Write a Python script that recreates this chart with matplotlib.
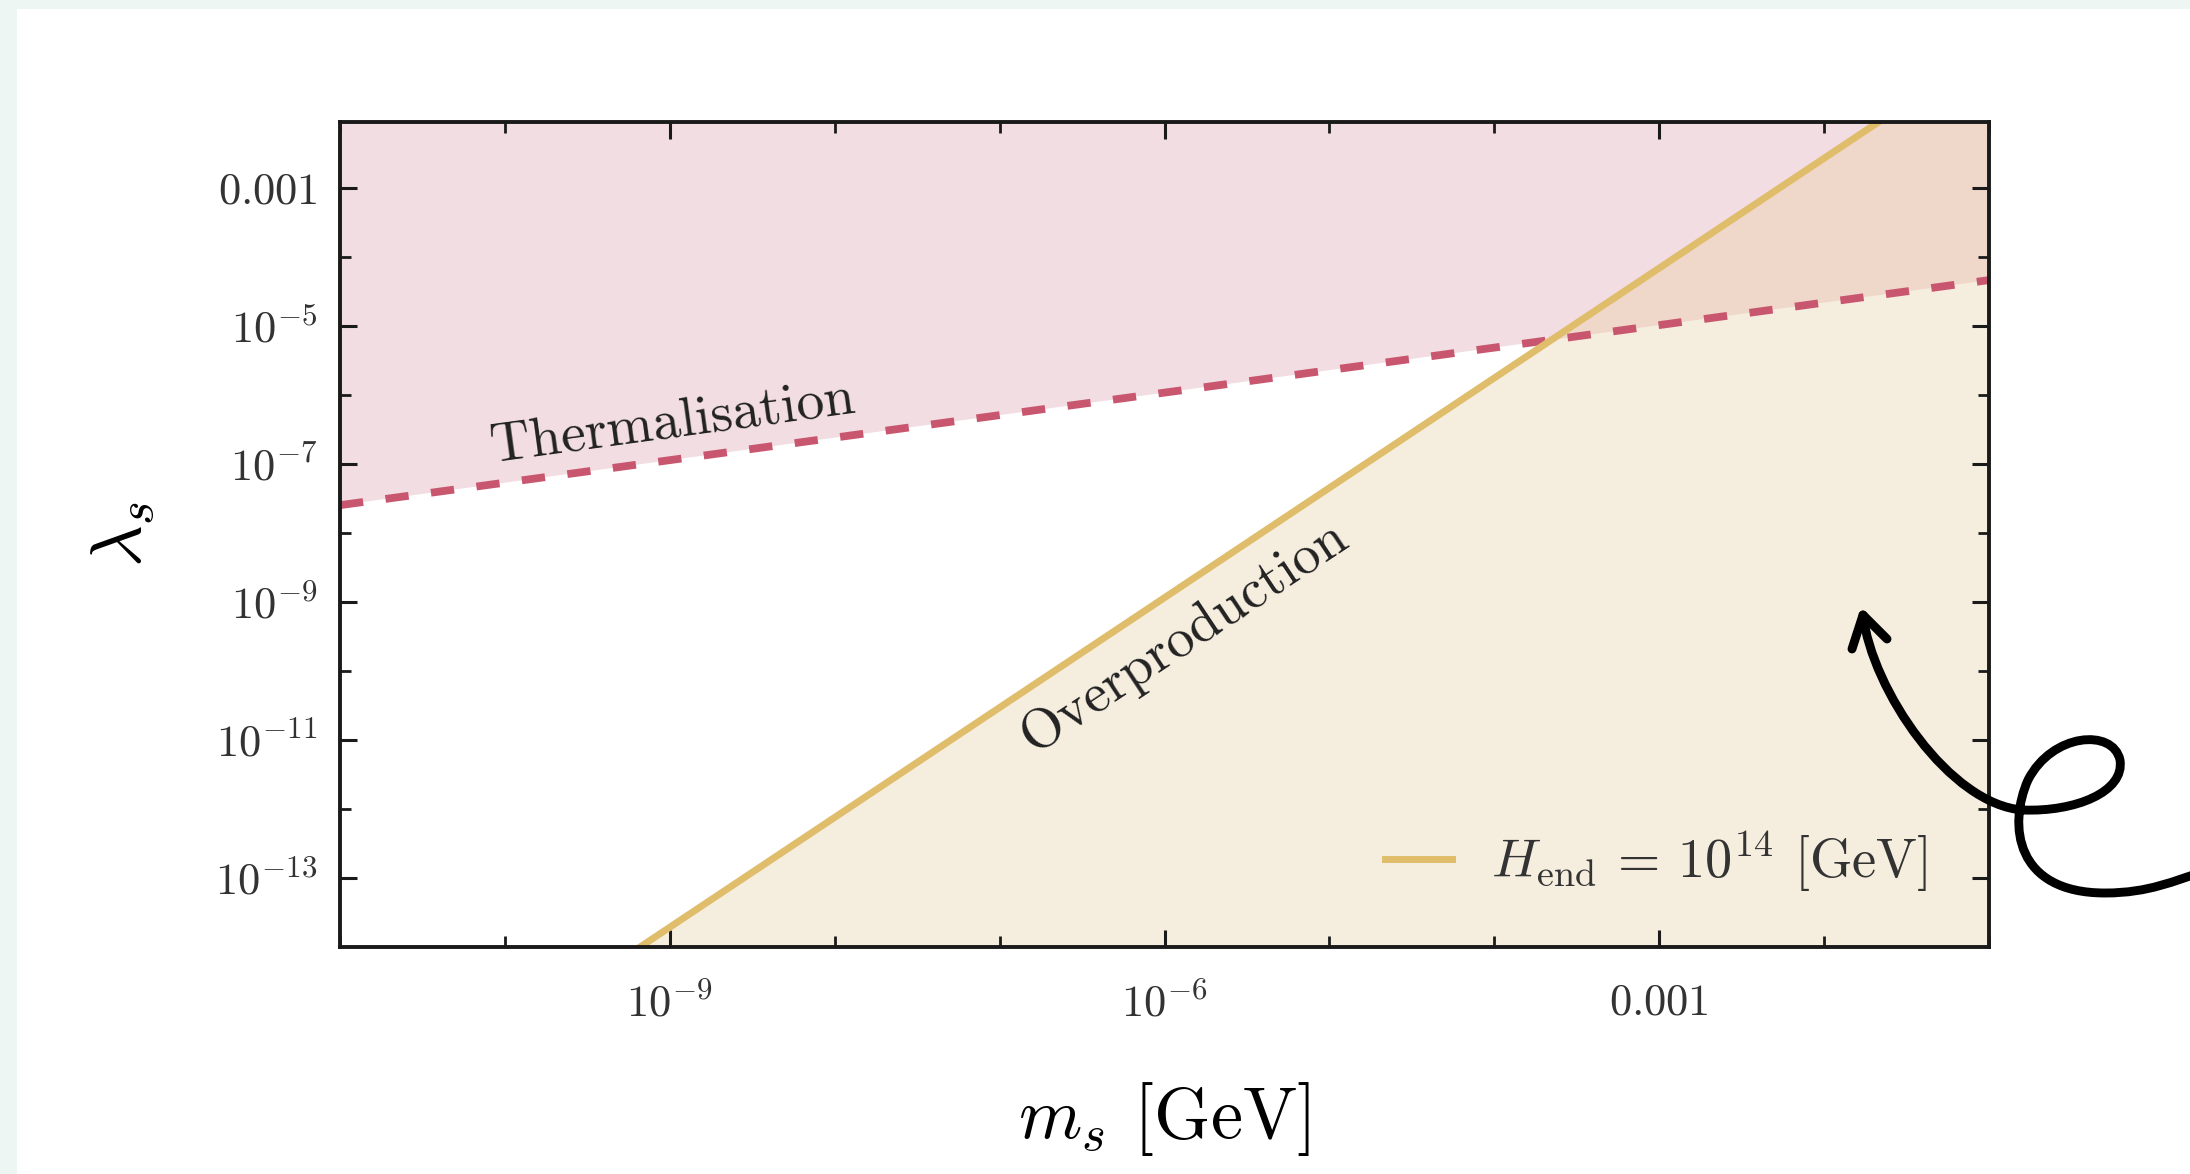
import numpy as np
import matplotlib
matplotlib.use("Agg")
import matplotlib.pyplot as plt
from matplotlib.patches import Rectangle, Polygon, PathPatch
from matplotlib.path import Path

plt.rcParams['mathtext.fontset'] = 'cm'
plt.rcParams['font.family'] = 'serif'
plt.rcParams['font.serif'] = ['cmr10', 'DejaVu Serif']
plt.rcParams['axes.unicode_minus'] = False

# ---- data ----
# thermalisation bound (dashed), at the plot edges
m_therm = [1e-11, 1e-1]
lam_therm = [10**-7.6, 10**-4.34]

# overproduction bound, H_end = 1e14 GeV (solid)
m_over = [10**-9.18, 10**-1.67]
lam_over = [1e-14, 10**-2.05]

xlim = (1e-11, 1e-1)
ylim = (1e-14, 10**-2.05)

x_major = [1e-9, 1e-6, 1e-3]
x_major_labels = [r"$10^{-9}$", r"$10^{-6}$", r"$0.001$"]
x_minor = [1e-11, 1e-10, 1e-8, 1e-7, 1e-5, 1e-4, 1e-2, 1e-1]
y_major = [1e-3, 1e-5, 1e-7, 1e-9, 1e-11, 1e-13]
y_major_labels = [r"$0.001$", r"$10^{-5}$", r"$10^{-7}$", r"$10^{-9}$",
                  r"$10^{-11}$", r"$10^{-13}$"]
y_minor = [1e-4, 1e-6, 1e-8, 1e-10, 1e-12]

pink = '#F1DDE2'
beige = '#F5EEDF'
overlap = '#EFD8CA'
red = '#C9566F'
gold = '#DFBD6A'

W, H = 2190, 1174
fig = plt.figure(figsize=(W / 200, H / 200), dpi=200, facecolor='#EDF6F2')
# white card on the mint background
fig.patches.append(Rectangle((17 / W, 0), 1, 1 - 9 / H, transform=fig.transFigure,
                             facecolor='white', edgecolor='none', zorder=-1))

ax = fig.add_axes([340 / W, 1 - 947 / H, 1649 / W, 825 / H])
ax.set_xscale('log')
ax.set_yscale('log')
ax.set_xlim(*xlim)
ax.set_ylim(*ylim)

# excluded regions
therm_poly = Polygon([(m_therm[0], lam_therm[0]), (m_therm[1], lam_therm[1]),
                      (xlim[1], ylim[1]), (xlim[0], ylim[1])],
                     closed=True, facecolor=pink, edgecolor='none', zorder=1)
over_pts = [(m_over[0], lam_over[0]), (m_over[1], lam_over[1]),
            (xlim[1], ylim[1]), (xlim[1], ylim[0])]
over_poly = Polygon(over_pts, closed=True, facecolor=beige, edgecolor='none', zorder=1)
both_poly = Polygon(over_pts, closed=True, facecolor=overlap, edgecolor='none', zorder=1.5)
ax.add_patch(therm_poly)
ax.add_patch(over_poly)
ax.add_patch(both_poly)
both_poly.set_clip_path(therm_poly)

ax.plot(m_therm, lam_therm, color=red, lw=2.8, dashes=(3.0, 2.9), zorder=3)
ax.plot(m_over, lam_over, color=gold, lw=2.5, zorder=3,
        label=r"$H_{\rm end}$ = $10^{14}$ [GeV]")

ax.text(10**-8.98, 10**-6.43, "Thermalisation", fontsize=20, rotation=7.8,
        ha='center', va='center', rotation_mode='anchor', color='#222222', zorder=4)
ax.text(10**-5.88, 10**-9.5, "Overproduction", fontsize=20, rotation=33.5,
        ha='center', va='center', rotation_mode='anchor', color='#222222', zorder=4)

ax.set_xticks(x_major)
ax.set_xticklabels(x_major_labels)
ax.set_xticks(x_minor, minor=True)
ax.set_yticks(y_major)
ax.set_yticklabels(y_major_labels)
ax.set_yticks(y_minor, minor=True)
ax.xaxis.set_minor_formatter(plt.NullFormatter())
ax.yaxis.set_minor_formatter(plt.NullFormatter())

ax.tick_params(which='both', direction='in', top=True, right=True,
               colors='#1a1a1a', labelcolor='#333333')
ax.tick_params(which='major', length=6, width=1.1, labelsize=16)
ax.tick_params(which='minor', length=4, width=1.0)
ax.tick_params(axis='x', which='major', pad=13)
ax.tick_params(axis='y', which='major', pad=8)
for s in ax.spines.values():
    s.set_linewidth(1.4)
    s.set_color('#1a1a1a')
    s.set_zorder(5)

ax.set_xlabel(r"$m_s$ [GeV]", fontsize=26)
ax.xaxis.set_label_coords(0.5, -0.161)
ax.set_ylabel(r"$\lambda_s$", fontsize=26)
ax.yaxis.set_label_coords(-0.111, 0.5)

leg = ax.legend(loc='center right', bbox_to_anchor=(0.979, 0.103), frameon=False,
                fontsize=19.6, handlelength=1.23, handletextpad=0.72, borderpad=0)
for t in leg.get_texts():
    t.set_color('#333333')

# hand drawn arrow pointing into the overproduction region
def px(x, y):
    return (x / W, 1 - y / H)

swirl = [px(1863, 615),
         px(1872, 690), px(1950, 805), px(2023, 810),
         px(2075, 812), px(2125, 792), px(2120, 760),
         px(2113, 728), px(2052, 733), px(2028, 780),
         px(2008, 825), px(2015, 893), px(2105, 893),
         px(2150, 893), px(2175, 880), px(2200, 873)]
codes = [Path.MOVETO] + [Path.CURVE4] * 15
fig.add_artist(PathPatch(Path(swirl, codes), transform=fig.transFigure, fill=False,
                         lw=3.2, edgecolor='black', capstyle='round', joinstyle='round',
                         zorder=10))
head = [px(1852, 649), px(1863, 615), px(1887, 639)]
fig.add_artist(PathPatch(Path(head), transform=fig.transFigure, fill=False,
                         lw=3.2, edgecolor='black', capstyle='round', joinstyle='round',
                         zorder=10))

fig.savefig('out.png', dpi=200, facecolor=fig.get_facecolor())
